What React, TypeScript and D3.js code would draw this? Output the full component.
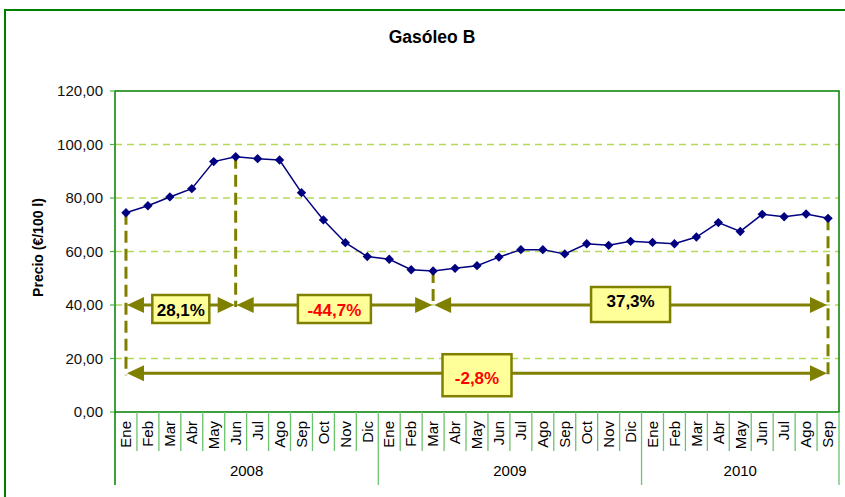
import React from "react";
import * as d3 from "d3";

const title = "Gasóleo B";
const yAxisTitle = "Precio (€/100 l)";
const months = ["Ene", "Feb", "Mar", "Abr", "May", "Jun", "Jul", "Ago", "Sep", "Oct", "Nov", "Dic"];
const years = ["2008", "2009", "2010"];
const monthsPerYear = [12, 12, 9];
const prices = [
  74.5, 77.1, 80.4, 83.5, 93.6, 95.4, 94.7, 94.2, 82.0, 71.8, 63.3, 58.1,
  57.1, 53.2, 52.7, 53.7, 54.7, 57.9, 60.7, 60.7, 59.1, 62.9, 62.3, 63.8,
  63.4, 62.9, 65.4, 70.8, 67.5, 73.9, 73.0, 74.0, 72.4,
];
const yTicks = [0, 20, 40, 60, 80, 100, 120];
const changeLabels = ["28,1%", "-44,7%", "37,3%", "-2,8%"];
const changeFrom = [0, 5, 14, 0];
const changeTo = [5, 14, 32, 32];
const changeLevel = [40, 40, 40, 14.5];

// label box styling (width, top offset, bottom offset, text offset relative to arrow)
const boxStyle = [
  { w: 57, top: -10, bottom: 18, ty: 5 },
  { w: 73, top: -10, bottom: 18, ty: 5 },
  { w: 79, top: -18, bottom: 17, ty: -4 },
  { w: 69, top: -19, bottom: 23, ty: 5 },
];

const W = 845;
const H = 497;
const L = 115, R = 839, T = 91, B = 412;
const FONT = "'Liberation Sans', Arial, sans-serif";
const OLIVE = "#808000";

export default function App() {
  const cats = prices.map((_, i) => i);
  const monthLabels: string[] = [];
  monthsPerYear.forEach((n) => {
    for (let k = 0; k < n; k++) monthLabels.push(months[k]);
  });

  const x = d3.scaleBand<number>().domain(cats).range([L, R]).padding(0);
  const bw = x.bandwidth();
  const cx = (i: number) => (x(i) as number) + bw / 2;
  const y = d3.scaleLinear().domain([0, 120]).range([B, T]);

  const locale = d3.formatLocale({ decimal: ",", thousands: ".", grouping: [3], currency: ["", "€"] });
  const fmt = locale.format(".2f");

  const line = d3
    .line<number>()
    .x((_, i) => cx(i))
    .y((d) => y(d));

  const diamond = d3.symbol().type(d3.symbolSquare).size(44)();

  // vertical connectors: each endpoint goes down to the lowest arrow level using it
  const endpoints = new Map<number, number>();
  changeFrom.forEach((f, k) => {
    [f, changeTo[k]].forEach((idx) => {
      const lv = changeLevel[k];
      if (!endpoints.has(idx) || (endpoints.get(idx) as number) > lv) endpoints.set(idx, lv);
    });
  });

  const arrowHead = (tipX: number, yy: number, dir: number) => {
    const len = 17, half = 8;
    return `M${tipX},${yy} L${tipX + dir * len},${yy - half} L${tipX + dir * len},${yy + half} Z`;
  };

  // year groups
  const yearStarts: number[] = [];
  let acc = 0;
  monthsPerYear.forEach((n) => {
    yearStarts.push(acc);
    acc += n;
  });

  return (
    <svg
      width={W}
      height={H}
      style={{ position: "absolute", left: 0, top: 0, background: "#fff" }}
      fontFamily={FONT}
    >
      <rect x={0} y={0} width={W} height={H} fill="#fff" />
      {/* outer border */}
      <rect x={5} y={10} width={860} height={520} fill="none" stroke="#008000" strokeWidth={2} />

      {/* title */}
      <text x={432} y={43} textAnchor="middle" fontSize={17.5} fontWeight="bold" fill="#000">
        {title}
      </text>

      {/* gridlines */}
      {yTicks
        .filter((t) => t > 0 && t < 120)
        .map((t) => (
          <line key={"g" + t} x1={L} x2={R} y1={y(t)} y2={y(t)} stroke="#B4DA55" strokeWidth={1.5} strokeDasharray="7,5" />
        ))}

      {/* plot border */}
      <rect x={L} y={T} width={R - L} height={B - T} fill="none" stroke="#008000" strokeWidth={1.5} />

      {/* y ticks and labels */}
      {yTicks.map((t) => (
        <g key={"t" + t}>
          <line x1={L - 5} x2={L} y1={y(t)} y2={y(t)} stroke="#4CAF50" strokeWidth={1.2} />
          <text x={103} y={y(t)} dy="0.35em" textAnchor="end" fontSize={15} fill="#111">
            {fmt(t)}
          </text>
        </g>
      ))}

      {/* y axis title */}
      <text
        transform={`translate(38,${(T + B) / 2 - 4}) rotate(-90)`}
        dy="0.35em"
        textAnchor="middle"
        fontSize={14}
        fontWeight="bold"
        fill="#000"
      >
        {yAxisTitle}
      </text>

      {/* category separators */}
      {d3.range(0, prices.length + 1).map((i) => {
        const xx = i < prices.length ? (x(i) as number) : R;
        const isYear = yearStarts.includes(i) || i === prices.length;
        return (
          <line
            key={"s" + i}
            x1={xx}
            x2={xx}
            y1={B}
            y2={isYear ? 485 : 451}
            stroke={i === 0 ? "#008000" : "#6CC46C"}
            strokeWidth={i === 0 ? 1.5 : 1.3}
          />
        );
      })}

      {/* month labels */}
      {monthLabels.map((m, i) => (
        <text
          key={"m" + i}
          transform={`translate(${cx(i)},${B + 9}) rotate(-90)`}
          dy="0.35em"
          textAnchor="end"
          fontSize={15}
          fill="#000"
        >
          {m}
        </text>
      ))}

      {/* year labels */}
      {years.map((yr, k) => {
        const start = yearStarts[k];
        const end = start + monthsPerYear[k] - 1;
        const mid = ((x(start) as number) + (x(end) as number) + bw) / 2;
        return (
          <text key={"y" + yr} x={mid} y={471} dy="0.35em" textAnchor="middle" fontSize={15} fill="#000">
            {yr}
          </text>
        );
      })}

      {/* vertical dashed connectors */}
      {Array.from(endpoints.entries()).map(([idx, lv]) => (
        <line
          key={"v" + idx}
          x1={cx(idx)}
          x2={cx(idx)}
          y1={y(prices[idx])}
          y2={y(lv) + 2}
          stroke={OLIVE}
          strokeWidth={3}
          strokeDasharray="12,6"
        />
      ))}

      {/* arrows */}
      {changeLabels.map((lab, k) => {
        const x1 = cx(changeFrom[k]) + 1;
        const x2 = cx(changeTo[k]) - 1;
        const yy = y(changeLevel[k]);
        const st = boxStyle[k];
        const mid = (x1 + x2) / 2;
        const neg = lab.startsWith("-");
        return (
          <g key={"a" + k}>
            <line x1={x1 + 10} x2={x2 - 10} y1={yy} y2={yy} stroke={OLIVE} strokeWidth={3} />
            <path d={arrowHead(x1, yy, 1)} fill={OLIVE} />
            <path d={arrowHead(x2, yy, -1)} fill={OLIVE} />
            <rect
              x={mid - st.w / 2}
              y={yy + st.top}
              width={st.w}
              height={st.bottom - st.top}
              fill="#FFFF99"
              stroke={OLIVE}
              strokeWidth={2.5}
            />
            <text
              x={mid}
              y={yy + st.ty}
              dy="0.35em"
              textAnchor="middle"
              fontSize={17}
              fontWeight="bold"
              fill={neg ? "#FF0000" : "#000"}
            >
              {lab}
            </text>
          </g>
        );
      })}

      {/* series */}
      <path d={line(prices) as string} fill="none" stroke="#000080" strokeWidth={1.5} />
      {prices.map((p, i) => (
        <path key={"p" + i} d={diamond as string} transform={`translate(${cx(i)},${y(p)}) rotate(45)`} fill="#000080" />
      ))}
    </svg>
  );
}
